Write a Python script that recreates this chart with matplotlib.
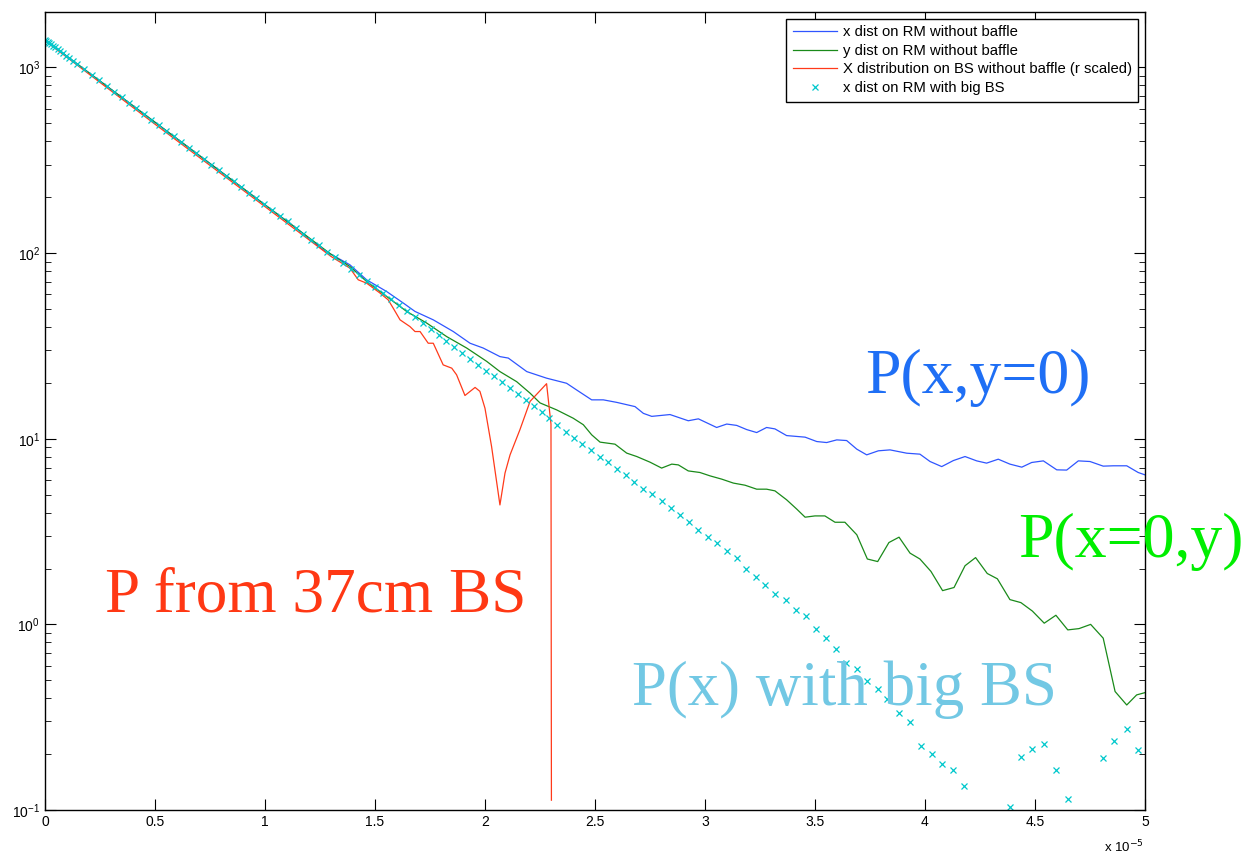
import matplotlib
matplotlib.use('Agg')
import matplotlib.pyplot as plt

# x positions are in units of 1e-5 (the axis shows "x 10^-5")

# x dist on RM without baffle
blue_x = [0.0, 0.25, 0.5, 0.75, 1.0, 1.15, 1.265, 1.386, 1.462, 1.553, 1.629, 1.682, 1.765, 1.856, 1.932, 1.992,
          2.068, 2.106, 2.190, 2.280, 2.371, 2.417, 2.485, 2.538, 2.599, 2.682, 2.720, 2.758, 2.841, 2.924, 2.970,
          3.053, 3.099, 3.144, 3.190, 3.235, 3.280, 3.318, 3.371, 3.455, 3.508, 3.553, 3.599, 3.644, 3.690, 3.735,
          3.788, 3.841, 3.917, 3.977, 4.023, 4.076, 4.129, 4.182, 4.235, 4.280, 4.333, 4.386, 4.440, 4.485, 4.538,
          4.599, 4.644, 4.697, 4.750, 4.810, 4.856, 4.917, 4.969, 5.0]
blue_y = [1409, 845, 507, 304, 182, 134, 104, 86.5, 71.8, 62.1, 53.8, 48.5, 43.7, 37.8, 32.7, 30.8,
          27.7, 27.2, 23.0, 21.2, 19.9, 18.3, 16.2, 16.2, 15.7, 14.9, 13.7, 13.2, 13.5, 12.5, 12.8,
          11.5, 12.0, 11.8, 11.2, 10.8, 11.5, 11.3, 10.4, 10.2, 9.66, 9.54, 9.86, 9.78, 8.79, 8.19,
          8.61, 8.71, 8.36, 8.26, 7.54, 7.08, 7.63, 8.02, 7.60, 7.39, 7.76, 7.30, 7.03, 7.45, 7.60,
          6.80, 6.78, 7.60, 7.54, 7.12, 7.15, 7.15, 6.58, 6.39]

# y dist on RM without baffle
green_x = [0.0, 0.5, 1.0, 1.2, 1.3, 1.386, 1.462, 1.553, 1.644, 1.735, 1.826, 1.917, 2.008, 2.068, 2.144,
           2.205, 2.250, 2.326, 2.401, 2.447, 2.485, 2.523, 2.591, 2.644, 2.690, 2.750, 2.803, 2.849, 2.879,
           2.924, 2.977, 3.023, 3.076, 3.129, 3.182, 3.235, 3.280, 3.318, 3.371, 3.417, 3.455, 3.500, 3.545,
           3.591, 3.636, 3.690, 3.738, 3.785, 3.836, 3.882, 3.932, 3.977, 4.027, 4.080, 4.132, 4.182, 4.230,
           4.283, 4.329, 4.386, 4.436, 4.488, 4.542, 4.595, 4.649, 4.700, 4.753, 4.810, 4.864, 4.917, 4.962, 5.0]
green_y = [1409, 507, 182, 121, 98.6, 84.7, 70.3, 58.4, 48.5, 42.0, 35.5, 30.8, 26.1, 23.0, 20.3,
           17.6, 15.6, 14.3, 12.9, 11.9, 10.5, 9.59, 9.35, 8.37, 8.02, 7.48, 6.95, 7.30, 7.23,
           6.71, 6.58, 6.31, 6.06, 5.77, 5.62, 5.35, 5.35, 5.24, 4.69, 4.18, 3.78, 3.84, 3.84,
           3.55, 3.55, 3.04, 2.25, 2.18, 2.76, 2.95, 2.42, 2.25, 1.93, 1.52, 1.58, 2.07, 2.29,
           1.88, 1.76, 1.36, 1.31, 1.18, 1.015, 1.12, 0.934, 0.949, 1.00, 0.843, 0.435, 0.368, 0.417, 0.429]

# X distribution on BS without baffle (r scaled)
red_x = [0.0, 0.5, 1.0, 1.2, 1.3, 1.386, 1.424, 1.462, 1.523, 1.560, 1.583, 1.614, 1.659, 1.682, 1.705,
         1.742, 1.765, 1.810, 1.849, 1.871, 1.909, 1.955, 1.977, 2.000, 2.030, 2.068, 2.091, 2.114, 2.159,
         2.205, 2.280, 2.300, 2.302]
red_y = [1395, 495, 178, 118, 96, 83.0, 71.8, 68.9, 60.9, 56.0, 50.5, 43.7, 40.2, 37.8, 37.8,
         32.7, 32.7, 25.0, 24.0, 22.1, 17.1, 18.9, 18.0, 14.6, 9.08, 4.40, 6.53, 8.19, 11.2,
         15.9, 19.8, 12.0, 0.113]

# x dist on RM with big BS (markers)
cyan_x = [0.000, 0.006, 0.012, 0.019, 0.027, 0.036, 0.046, 0.057, 0.069, 0.082, 0.096, 0.111, 0.127, 0.144,
          0.178, 0.212, 0.246, 0.280, 0.314, 0.348, 0.382, 0.416, 0.450, 0.484, 0.518, 0.552, 0.586, 0.620,
          0.654, 0.688, 0.722, 0.756, 0.790, 0.824, 0.858, 0.892, 0.926, 0.960, 0.995,
          1.031, 1.067, 1.103, 1.139, 1.175, 1.211, 1.247, 1.283, 1.319, 1.356, 1.392, 1.428, 1.464, 1.500,
          1.536, 1.572, 1.608, 1.644, 1.680, 1.717, 1.753, 1.789, 1.825, 1.861, 1.897, 1.933, 1.969, 2.005,
          2.041, 2.077, 2.113, 2.149, 2.186, 2.222, 2.258,
          2.292, 2.329, 2.367, 2.405, 2.442, 2.482, 2.521, 2.560, 2.600, 2.640, 2.679, 2.720, 2.760, 2.803,
          2.844, 2.886, 2.927, 2.970, 3.012, 3.056, 3.100, 3.144, 3.188, 3.232, 3.275, 3.320, 3.366, 3.412,
          3.458, 3.503, 3.549, 3.597, 3.642, 3.690, 3.738, 3.785, 3.829, 3.882, 3.932, 3.980, 4.030, 4.079,
          4.129, 4.179, 4.386, 4.436, 4.488, 4.541, 4.594, 4.649, 4.808, 4.861, 4.917, 4.970]
cyan_y = [1409, 1392, 1375, 1356, 1334, 1309, 1283, 1254, 1224, 1192, 1158, 1123, 1087, 1050,
          979, 913, 852, 795, 741, 691, 645, 602, 561, 524, 489, 456, 425, 396,
          370, 345, 322, 300, 280, 261, 244, 227, 212, 198, 184,
          171, 159, 148, 137, 127, 118, 110, 102, 94.9, 88.0, 81.7, 75.9, 70.5, 65.5,
          60.8, 56.5, 52.5, 48.8, 45.3, 42.0, 39.0, 36.3, 33.7, 31.3, 29.1, 27.0, 25.1, 23.3,
          21.7, 20.1, 18.7, 17.4, 16.1, 15.0, 13.9,
          12.9, 11.9, 10.9, 10.1, 9.39, 8.71, 8.02, 7.48, 6.88, 6.37, 5.84, 5.37, 5.05, 4.63,
          4.26, 3.86, 3.54, 3.23, 2.95, 2.76, 2.50, 2.28, 2.00, 1.80, 1.62, 1.45, 1.36, 1.20,
          1.11, 0.942, 0.843, 0.741, 0.618, 0.574, 0.496, 0.449, 0.397, 0.335, 0.299, 0.220, 0.201, 0.177,
          0.164, 0.135, 0.1035, 0.192, 0.213, 0.227, 0.164, 0.114, 0.190, 0.236, 0.274, 0.211]

labels = ['x dist on RM without baffle', 'y dist on RM without baffle',
          'X distribution on BS without baffle (r scaled)', 'x dist on RM with big BS']

plt.rcParams['font.family'] = ['Liberation Sans', 'DejaVu Sans']

fig = plt.figure(figsize=(12.42, 8.56), dpi=100)
ax = fig.add_axes([0.0362, 0.0537, 0.8857, 0.9323])

ax.plot(blue_x, blue_y, color='#2f55ff', lw=0.9, label=labels[0])
ax.plot(green_x, green_y, color='#1a8a1a', lw=0.9, label=labels[1])
ax.plot(red_x, red_y, color='#ff3a1a', lw=0.9, label=labels[2])
ax.plot(cyan_x, cyan_y, 'x', color='#00c8cc', ms=4.5, mew=0.9, label=labels[3])

ax.set_yscale('log')
ax.set_xlim(0, 5)
ax.set_ylim(0.1, 1990)
ax.set_xticks([0, 0.5, 1, 1.5, 2, 2.5, 3, 3.5, 4, 4.5, 5])
ax.set_xticklabels(['0', '0.5', '1', '1.5', '2', '2.5', '3', '3.5', '4', '4.5', '5'])
ax.tick_params(which='both', direction='in', top=True, right=True, labelsize=10)
ax.tick_params(which='major', length=8, width=0.8)
ax.tick_params(which='minor', length=4, width=0.6)
for s in ax.spines.values():
    s.set_linewidth(1.0)

fig.text(0.889, 0.004, r'x 10$^{-5}$', fontsize=9.5)

ax.legend(loc='upper right', fontsize=10.75, handlelength=3.0, labelspacing=0.3,
          borderaxespad=0.45, fancybox=False, edgecolor='black', framealpha=1,
          numpoints=1, borderpad=0.45, handletextpad=0.35)

# big annotations
serif = 'Liberation Serif'
ax.text(3.727, 17.7, 'P(x,y=0)', color='#1f6ff5', fontsize=46, family=serif)
ax.text(4.423, 2.31, 'P(x=0,y)', color='#00ee00', fontsize=46, family=serif)
ax.text(0.273, 1.168, 'P from 37cm BS', color='#ff3814', fontsize=45.5, family=serif)
ax.text(2.668, 0.368, 'P(x) with big BS', color='#72c8e4', fontsize=45.3, family=serif)

plt.savefig('out.png', dpi=100)
